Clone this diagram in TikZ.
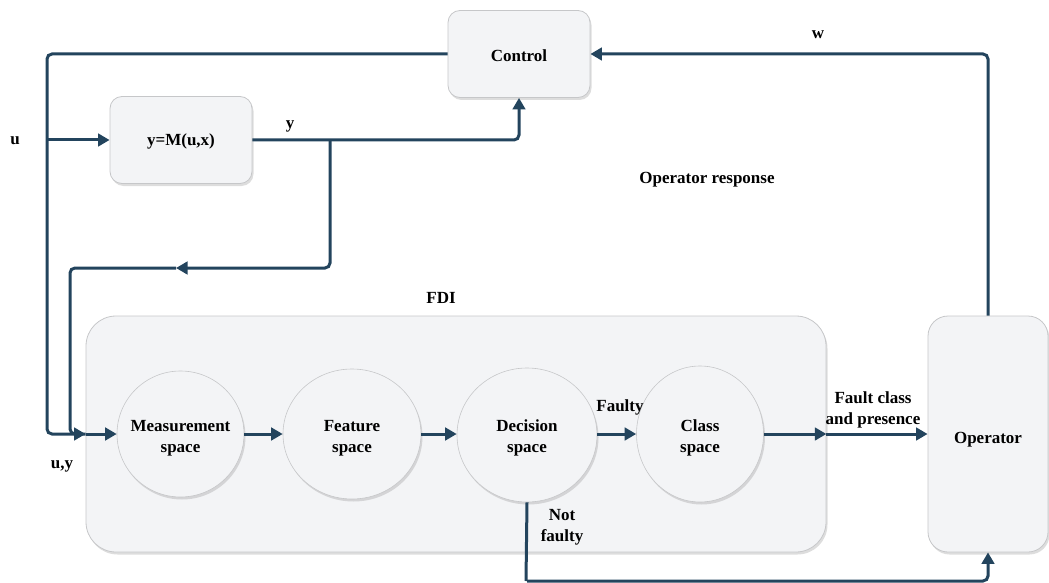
\documentclass[tikz,border=0pt]{standalone}
\usepackage{fontspec}
\setmainfont{Liberation Serif}
\usetikzlibrary{arrows.meta,shapes.geometric,shadows}
\definecolor{linecol}{HTML}{23445D}
\definecolor{boxfill}{HTML}{F3F4F6}
\definecolor{boxline}{HTML}{C6C7C9}
\begin{document}
\begin{tikzpicture}[x=1pt,y=-1pt,
  every node/.style={font=\fontsize{17}{21}\selectfont\bfseries, text=black},
  softshadow/.style={drop shadow={shadow xshift=1.5pt, shadow yshift=-2.5pt, opacity=0.22, fill=black!60}},
  block/.style={draw=boxline, line width=0.8pt, fill=boxfill, rounded corners=12pt,
    inner sep=0pt, align=center, softshadow},
  space/.style={ellipse, draw=boxline, line width=0.6pt, fill=boxfill, inner sep=0pt,
    softshadow},
  wire/.style={draw=linecol, line width=3pt, rounded corners=5pt},
  conn/.style={wire, -{Triangle[length=11.5pt,width=12.5pt]}},
  lbl/.style={align=center, inner sep=0pt, yshift=-2.5pt}]
\useasboundingbox (0,0) rectangle (1049,583);

% outer blocks
\node[block, rounded corners=30pt, minimum width=740pt, minimum height=236pt] (fdi) at (456,434) {};
\node[block, rounded corners=20pt, minimum width=120pt, minimum height=236pt] (oper) at (988,434) {};
\node[block, minimum width=142pt, minimum height=87pt] (ctrl) at (519,54) {};
\node[block, minimum width=142pt, minimum height=87pt] (model) at (181,140) {};

% stages inside the FDI block
\node[space, minimum width=127pt, minimum height=126pt] (meas) at (180.5,434) {};
\node[space, minimum width=138pt, minimum height=130pt] (feat) at (352,434) {};
\node[space, minimum width=140pt, minimum height=134pt] (dec) at (527,435) {};
\node[space, minimum width=127pt, minimum height=136pt] (cls) at (700,434) {};

% block texts
\node[lbl] (tOper) at (988,437) {Operator};
\node[lbl] (tCtrl) at (519,53) {Control};
\node[lbl] (tModel) at (181,139) {y=M(u,x)};
\node[lbl] (tMeas) at (180.5,435.5) {Measurement\\space};
\node[lbl] (tFeat) at (352,435.5) {Feature\\space};
\node[lbl] (tDec) at (527,435.5) {Decision\\space};
\node[lbl] (tCls) at (700,435.5) {Class\\space};

% labels
\node[lbl] (tFDI) at (441,295) {FDI};
\node[lbl] (tresp) at (707,177) {Operator response};
\node[lbl] (tw) at (818,32) {w};
\node[lbl] (tu) at (15,138) {u};
\node[lbl] (ty) at (290,124) {y};
\node[lbl] (tuy) at (62,464) {u,y};
\node[lbl] (tfaulty) at (620,405) {Faulty};
\node[lbl] (tfcp) at (873,407) {Fault class\\and presence};
\node[lbl] (tnf) at (562,525) {Not\\faulty};

% junction and bend points
\coordinate (uTap) at (47,140);
\coordinate (uLow) at (47,434);
\coordinate (yTap) at (330,140);
\coordinate (yMid) at (176,268);
\coordinate (yLow) at (70,434);
\coordinate (nfLow) at (526,581);

% control input u
\draw[conn] (ctrl.west) -| (uLow) -- (fdi.west);
\draw[conn] (uTap) -- (model.west);
% measured output y
\draw[conn] (model.east) -| (ctrl.south);
\draw[conn] (yTap) |- (yMid);
\draw[wire] (yMid) -- (70,268) -- (yLow) -- (fdi.west);

% FDI chain
\draw[conn] (fdi.west) -- (meas.west);
\draw[conn] (meas.east) -- (feat.west);
\draw[conn] (feat.east) -- (dec.west |- feat.east);
\draw[conn] (dec.east |- cls.west) -- (cls.west);
\draw[conn] (cls.east) -- (fdi.east);
\draw[conn] (fdi.east) -- (oper.west);

% not faulty path and operator response
\draw[conn] (nfLow -| dec.south) -- (nfLow) -| (oper.south);
\draw[wire] (dec.south) -- (nfLow);
\draw[conn] (oper.north) |- (ctrl.east);
\end{tikzpicture}
\end{document}
